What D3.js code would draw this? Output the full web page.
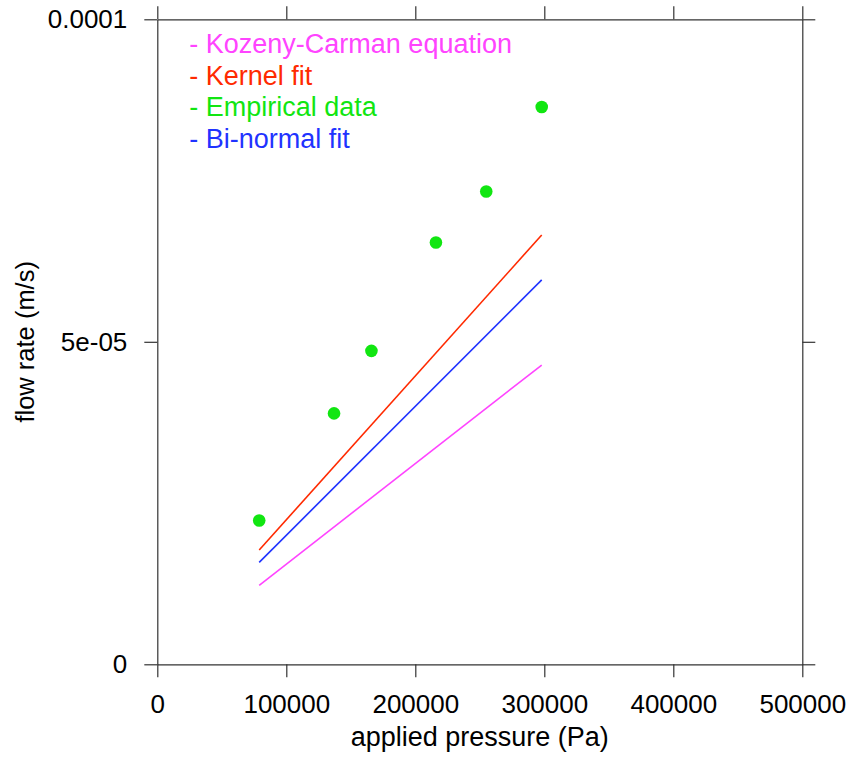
<!DOCTYPE html>
<html>
<head>
<meta charset="utf-8">
<script src="https://cdn.jsdelivr.net/npm/d3@7"></script>
<style>
  body { margin: 0; background: #fff; }
  text { font-family: "Liberation Sans", Arial, sans-serif; }
</style>
</head>
<body>
<div id="chart"></div>
<script>
// data
var pressure = [79000, 137000, 166000, 216000, 255000, 298000];
var empirical = [2.23e-5, 3.89e-5, 4.86e-5, 6.54e-5, 7.33e-5, 8.64e-5];

var fitPressure = [79000, 298000];
var kozeny = [1.225e-5, 4.64e-5];
var kernel = [1.772e-5, 6.656e-5];
var binormal = [1.58e-5, 5.96e-5];

var xTicks = [0, 100000, 200000, 300000, 400000, 500000];
var yTicks = [0, 5e-5, 1e-4];
var yTickLabels = ["0", "5e-05", "0.0001"];

var legendNames = ["- Kozeny-Carman equation", "- Kernel fit", "- Empirical data", "- Bi-normal fit"];
var legendColors = ["#ff44ff", "#ff2a00", "#11e611", "#1f33ff"];

var svgWidth = 854;
var svgHeight = 760;
var margin = {top: 19.3, left: 157.3, right: 51.7, bottom: 95.7};
var width = svgWidth - margin.left - margin.right;
var height = svgHeight - margin.top - margin.bottom;

var svg = d3.select("#chart").append("svg").attr("width", svgWidth).attr("height", svgHeight);
var chartGroup = svg.append("g").attr("transform", `translate(${margin.left},${margin.top})`);

var xScale = d3.scaleLinear().domain([0, 500000]).range([0, width]);
var yScale = d3.scaleLinear().domain([0, 1e-4]).range([height, 0]);

var bottomAxis = d3.axisBottom(xScale).tickValues(xTicks).tickFormat(d3.format("d")).tickSize(13).tickSizeOuter(0).tickPadding(17);
var topAxis = d3.axisTop(xScale).tickValues(xTicks).tickFormat("").tickSize(13).tickSizeOuter(0);
var leftAxis = d3.axisLeft(yScale).tickValues(yTicks).tickFormat((d, i) => yTickLabels[i]).tickSize(13).tickSizeOuter(0).tickPadding(17);
var rightAxis = d3.axisRight(yScale).tickValues(yTicks).tickFormat("").tickSize(13).tickSizeOuter(0);

function styleAxis(g) {
    g.selectAll("path, line").attr("stroke", "#333").attr("stroke-width", 1.2);
    g.selectAll("text").attr("fill", "#000").style("font-size", "26px").style("font-family", "'Liberation Sans', Arial, sans-serif");
}

chartGroup.append("g").attr("transform", `translate(0,${height})`).call(bottomAxis).call(styleAxis);
chartGroup.append("g").call(topAxis).call(styleAxis);
chartGroup.append("g").call(leftAxis).call(styleAxis);
chartGroup.append("g").attr("transform", `translate(${width},0)`).call(rightAxis).call(styleAxis);

// fitted lines
var line = d3.line().x(d => xScale(d[0])).y(d => yScale(d[1]));
var lines = [
    {vals: kozeny, color: legendColors[0]},
    {vals: kernel, color: legendColors[1]},
    {vals: binormal, color: legendColors[3]}
];
lines.forEach(function(l) {
    chartGroup.append("path")
        .attr("d", line(fitPressure.map((p, i) => [p, l.vals[i]])))
        .attr("fill", "none").attr("stroke", l.color).attr("stroke-width", 1.6);
});

// empirical points
chartGroup.selectAll("circle").data(pressure).enter().append("circle")
    .attr("cx", d => xScale(d))
    .attr("cy", (d, i) => yScale(empirical[i]))
    .attr("r", 6.3)
    .attr("fill", legendColors[2]);

// legend
svg.selectAll(".legend").data(legendNames).enter().append("text")
    .attr("class", "legend")
    .attr("x", 189.3)
    .attr("y", (d, i) => 52.7 + i * 31.8)
    .attr("fill", (d, i) => legendColors[i])
    .style("font-size", "27px")
    .text(d => d);

// axis titles
svg.append("text").attr("x", margin.left + width / 2).attr("y", 746)
    .attr("text-anchor", "middle").style("font-size", "27px").attr("fill", "#000")
    .text("applied pressure (Pa)");
svg.append("text").attr("transform", `translate(34,${margin.top + height / 2}) rotate(-90)`)
    .attr("text-anchor", "middle").style("font-size", "25.5px").attr("fill", "#000")
    .text("flow rate (m/s)");
</script>
</body>
</html>
